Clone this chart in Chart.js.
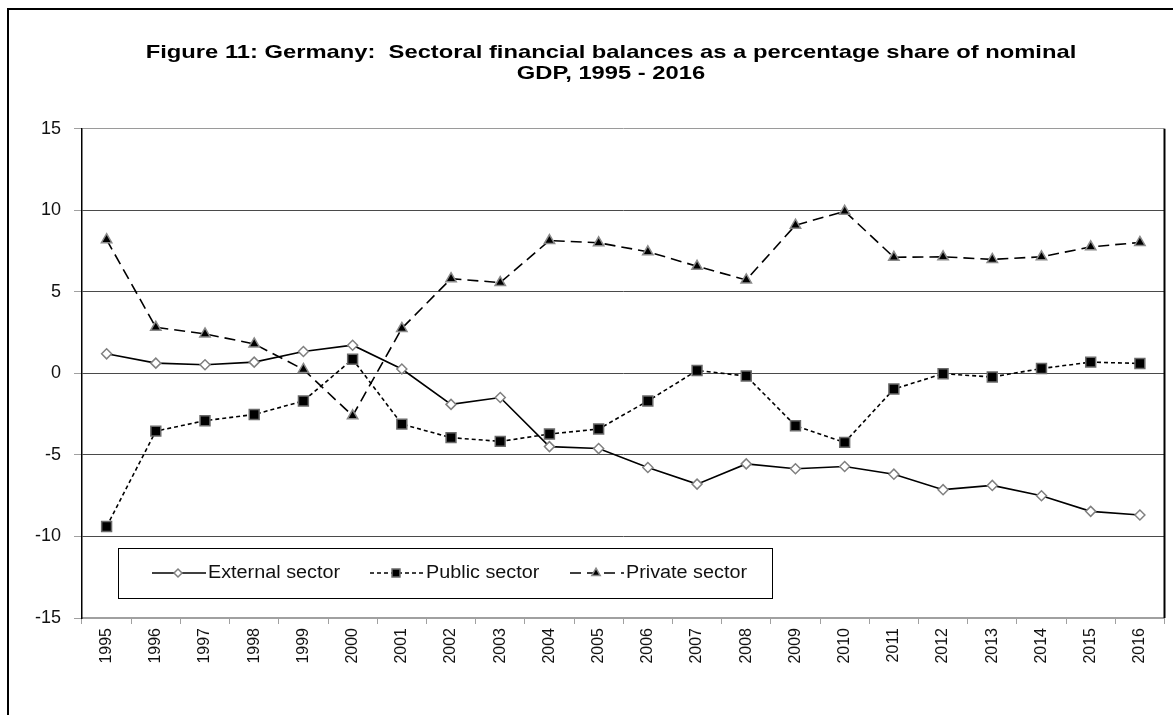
<!DOCTYPE html>
<html>
<head>
<meta charset="utf-8">
<script src="https://cdn.jsdelivr.net/npm/chart.js@4"></script>
<style>
  body { margin: 0; background: #fff; }
  #wrap { position: relative; width: 1173px; height: 715px; }
</style>
</head>
<body>
<div id="wrap"><canvas id="sectoral" width="1173" height="715"></canvas></div>
<script>
const years = ['1995','1996','1997','1998','1999','2000','2001','2002','2003','2004','2005',
               '2006','2007','2008','2009','2010','2011','2012','2013','2014','2015','2016'];

const externalSector = [1.2, 0.63, 0.53, 0.69, 1.34, 1.73, 0.27, -1.9, -1.48, -4.49, -4.61,
                        -5.77, -6.79, -5.55, -5.85, -5.71, -6.18, -7.13, -6.87, -7.5, -8.46, -8.68];
const publicSector = [-9.39, -3.54, -2.9, -2.52, -1.69, 0.87, -3.11, -3.94, -4.17, -3.72, -3.41,
                      -1.69, 0.18, -0.16, -3.21, -4.23, -0.96, -0.02, -0.22, 0.3, 0.69, 0.61];
const privateSector = [8.2, 2.83, 2.42, 1.81, 0.24, -2.6, 2.76, 5.81, 5.57, 8.15, 8.01,
                       7.46, 6.57, 5.73, 9.09, 9.94, 7.12, 7.15, 6.99, 7.15, 7.76, 8.03];

const seriesNames = ['External sector', 'Public sector', 'Private sector'];
const titleLines = ['Figure 11: Germany:  Sectoral financial balances as a percentage share of nominal',
                    'GDP, 1995 - 2016'];

const FONT = "'Liberation Sans', Arial, sans-serif";

// the original figure is a bit wider than tall, so title text gets stretched sideways
const extras = {
  id: 'extras',
  afterLayout(chart) {
    const tb = chart.titleBlock;
    if (!tb || tb._wrapped) return;
    const orig = tb.draw.bind(tb);
    tb.draw = function (area) {
      const ctx = chart.ctx;
      const c0 = (tb.left + tb.right) / 2;
      ctx.save();
      ctx.translate(611, 0);
      ctx.scale(1.25, 1);
      ctx.translate(-c0, 0);
      orig(area);
      ctx.restore();
    };
    tb._wrapped = true;
  },
  beforeDraw(chart) {
    const ctx = chart.ctx;
    ctx.save();
    ctx.strokeStyle = '#000';
    ctx.lineWidth = 2;
    ctx.beginPath();
    ctx.moveTo(8, 760);
    ctx.lineTo(8, 9);
    ctx.lineTo(1200, 9);
    ctx.stroke();
    ctx.restore();
  },
  afterDraw(chart) {
    const ctx = chart.ctx;
    const a = chart.chartArea;
    ctx.save();
    ctx.strokeStyle = '#000';
    ctx.lineWidth = 2;
    ctx.beginPath();
    ctx.moveTo(a.right, a.top);
    ctx.lineTo(a.right, a.bottom);
    ctx.stroke();

    // legend box inside the plot
    const bx = 118, by = 548, bw = 654, bh = 50;
    ctx.fillStyle = '#fff';
    ctx.fillRect(bx, by, bw, bh);
    ctx.lineWidth = 1;
    ctx.strokeRect(bx + 0.5, by + 0.5, bw, bh);
    const starts = [152, 370, 570];
    const cy = by + 25;
    chart.data.datasets.forEach((ds, i) => {
      const x0 = starts[i];
      ctx.save();
      ctx.strokeStyle = ds.borderColor;
      ctx.lineWidth = ds.borderWidth;
      ctx.setLineDash(ds.borderDash || []);
      ctx.beginPath();
      ctx.moveTo(x0, cy);
      ctx.lineTo(x0 + 54, cy);
      ctx.stroke();
      ctx.setLineDash([]);
      ctx.fillStyle = ds.pointBackgroundColor;
      ctx.strokeStyle = ds.pointBorderColor;
      ctx.lineWidth = ds.pointBorderWidth;
      Chart.helpers.drawPoint(ctx, {
        pointStyle: ds.pointStyle, radius: ds.pointRadius * 0.8, rotation: 0,
        borderWidth: ds.pointBorderWidth
      }, x0 + 26, cy);
      ctx.restore();
      ctx.save();
      ctx.fillStyle = '#111';
      ctx.font = '18px ' + FONT;
      ctx.textBaseline = 'middle';
      ctx.translate(x0 + 56, cy);
      ctx.scale(1.1, 1);
      ctx.fillText(ds.label, 0, 0);
      ctx.restore();
    });
    ctx.restore();
  }
};

new Chart(document.getElementById('sectoral'), {
  type: 'line',
  data: {
    labels: years,
    datasets: [
      {
        label: seriesNames[0],
        data: externalSector,
        borderColor: '#000',
        borderWidth: 1.6,
        pointStyle: 'rectRot',
        pointRadius: 5,
        pointBackgroundColor: '#fff',
        pointBorderColor: '#808080',
        pointBorderWidth: 1.5
      },
      {
        label: seriesNames[1],
        data: publicSector,
        borderColor: '#000',
        borderWidth: 1.6,
        borderDash: [4, 3],
        pointStyle: 'rect',
        pointRadius: 7,
        pointBackgroundColor: '#000',
        pointBorderColor: '#6a6a6a',
        pointBorderWidth: 1.5
      },
      {
        label: seriesNames[2],
        data: privateSector,
        borderColor: '#000',
        borderWidth: 1.6,
        borderDash: [11, 6],
        pointStyle: 'triangle',
        pointRadius: 6,
        pointBackgroundColor: '#000',
        pointBorderColor: '#8a8a8a',
        pointBorderWidth: 1.5
      }
    ]
  },
  options: {
    responsive: false,
    animation: false,
    devicePixelRatio: 1,
    layout: { padding: { left: 0, right: 5, top: 11, bottom: 0 } },
    plugins: {
      legend: { display: false },
      tooltip: { enabled: false },
      title: {
        display: true,
        text: titleLines,
        color: '#000',
        font: { family: FONT, size: 19, weight: 'bold', lineHeight: 1.1 },
        padding: { top: 31, bottom: 45 }
      }
    },
    scales: {
      x: {
        offset: true,
        afterFit(scale) { scale.height = 97; },
        grid: { drawOnChartArea: false, offset: true, tickLength: 6, tickColor: '#a0a0a0' },
        border: { color: '#a0a0a0', width: 2 },
        ticks: {
          minRotation: 90, maxRotation: 90, autoSkip: false, padding: 4,
          color: '#111', font: { family: FONT, size: 16 }
        }
      },
      y: {
        min: -15,
        max: 15,
        afterFit(scale) { scale.width = 82; },
        grid: {
          color: ctx => (ctx.tick.value === 15 || ctx.tick.value === -15) ? '#9a9a9a' : '#4a4a4a',
          tickLength: 8,
          tickColor: '#a0a0a0'
        },
        border: { color: '#000', width: 1.5 },
        ticks: { stepSize: 5, padding: 13, color: '#111', font: { family: FONT, size: 18 } }
      }
    }
  },
  plugins: [extras]
});
</script>
</body>
</html>
